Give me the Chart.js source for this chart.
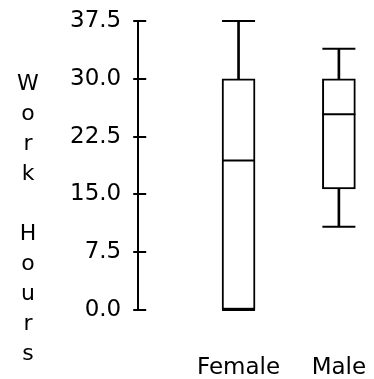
<!DOCTYPE html>
<html>
<head>
<meta charset="utf-8">
<script src="https://cdn.jsdelivr.net/npm/chart.js@4"></script>
<style>
  html, body { margin: 0; padding: 0; background: #fff; }
  #wrap { width: 374px; height: 379px; }
</style>
</head>
<body>
<div id="wrap"><canvas id="myChart"></canvas></div>
<script>
// box plot values
const categories = ["Female", "Male"];
const whiskerLow = [0, 10.8];
const q1 = [0, 15.7];
const median = [19.4, 25.4];
const q3 = [30, 30];
const whiskerHigh = [37.5, 33.9];
const yTicks = [0, 7.5, 15, 22.5, 30, 37.5];
const yTitle = "Work Hours";

Chart.defaults.font.family = "DejaVu Sans";
Chart.defaults.color = "#000";

// x position of each category on the linear axis
const xOf = (i) => i + 1;

// tick marks crossing the y axis + stacked title letters
const axisExtras = {
  id: "axisExtras",
  afterDraw(chart) {
    const ctx = chart.ctx;
    const y = chart.scales.y;
    const left = chart.chartArea.left;
    ctx.save();
    ctx.strokeStyle = "#000";
    ctx.lineWidth = 2;
    yTicks.forEach((v) => {
      const py = Math.round(y.getPixelForValue(v));
      ctx.beginPath();
      ctx.moveTo(left - 5, py);
      ctx.lineTo(left + 8, py);
      ctx.stroke();
    });
    ctx.fillStyle = "#000";
    ctx.font = "22px 'DejaVu Sans'";
    ctx.textAlign = "center";
    ctx.textBaseline = "alphabetic";
    [...yTitle].forEach((ch, i) => {
      ctx.fillText(ch, 28, 90 + i * 30);
    });
    ctx.restore();
  },
};

const ctx = document.getElementById("myChart").getContext("2d");

const myChart = new Chart(ctx, {
  type: "bar",
  data: {
    datasets: [
      {
        // box from Q1 to Q3
        data: categories.map((c, i) => ({ x: xOf(i), y: [q1[i], q3[i]] })),
        backgroundColor: "#fff",
        borderColor: "#000",
        borderWidth: 2,
        borderSkipped: false,
        barThickness: 33,
        grouped: false,
        clip: false,
        order: 3,
      },
      {
        // upper whisker
        data: categories.map((c, i) => ({ x: xOf(i), y: [q3[i], whiskerHigh[i]] })),
        backgroundColor: "#000",
        borderWidth: 0,
        barThickness: 2,
        grouped: false,
        clip: false,
        order: 2,
      },
      {
        // lower whisker
        data: categories.map((c, i) => ({ x: xOf(i), y: [whiskerLow[i], q1[i]] })),
        backgroundColor: "#000",
        borderWidth: 0,
        barThickness: 2,
        grouped: false,
        clip: false,
        order: 2,
      },
      {
        // median lines
        type: "line",
        data: categories.map((c, i) => ({ x: xOf(i), y: median[i] })),
        showLine: false,
        pointStyle: "line",
        pointRadius: 16.5,
        pointBorderWidth: 2,
        borderColor: "#000",
        clip: false,
        order: 0,
      },
      {
        // whisker caps
        type: "line",
        data: categories.flatMap((c, i) => [
          { x: xOf(i), y: whiskerHigh[i] },
          { x: xOf(i), y: whiskerLow[i] },
        ]),
        showLine: false,
        pointStyle: "line",
        pointRadius: 16.5,
        pointBorderWidth: 2,
        borderColor: "#000",
        clip: false,
        order: 0,
      },
    ],
  },
  options: {
    responsive: true,
    maintainAspectRatio: false,
    animation: false,
    events: [],
    layout: {
      autoPadding: false,
      padding: { left: 70, right: 0, top: 21, bottom: 0 },
    },
    plugins: {
      legend: { display: false },
      tooltip: { enabled: false },
    },
    scales: {
      x: {
        type: "linear",
        min: 0,
        max: 2.35,
        offset: false,
        // invisible tick marks just push the labels down
        grid: { drawOnChartArea: false, drawTicks: true, tickLength: 48, color: "transparent" },
        border: { display: false },
        afterBuildTicks: (scale) => {
          scale.ticks = categories.map((c, i) => ({ value: xOf(i) }));
        },
        ticks: {
          autoSkip: false,
          maxRotation: 0,
          padding: 0,
          font: { size: 23, lineHeight: "21px" },
          callback: (v) => categories[v - 1],
        },
      },
      y: {
        min: 0,
        max: 37.5,
        grid: { drawOnChartArea: false, drawTicks: true, tickLength: 17, color: "transparent" },
        border: { display: true, color: "#000", width: 2 },
        afterBuildTicks: (scale) => {
          scale.ticks = yTicks.map((v) => ({ value: v }));
        },
        ticks: {
          padding: 0,
          font: { size: 23 },
          callback: (v) => v.toFixed(1),
        },
      },
    },
  },
  plugins: [axisExtras],
});
</script>
</body>
</html>
